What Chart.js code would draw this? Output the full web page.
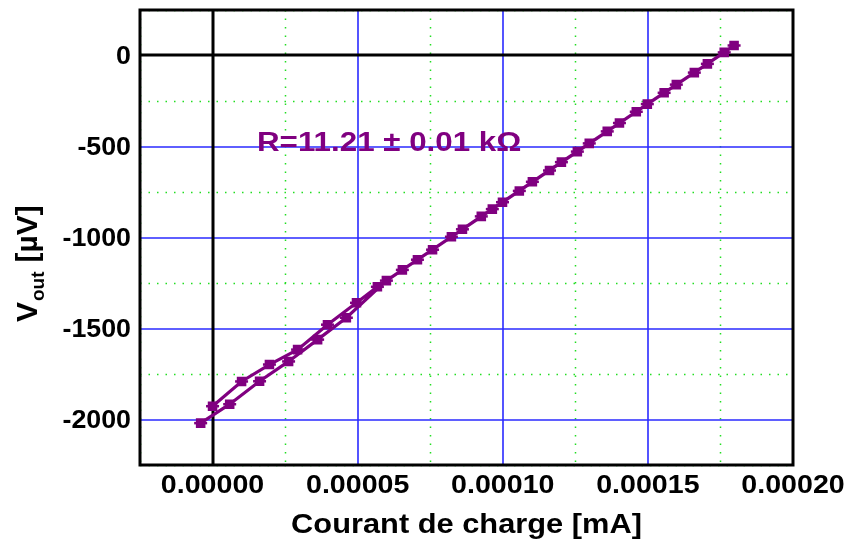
<!DOCTYPE html>
<html>
<head>
<meta charset="utf-8">
<script src="https://cdn.jsdelivr.net/npm/chart.js@4/dist/chart.umd.min.js"></script>
<style>
  html, body { margin: 0; padding: 0; background: #fff; }
  #wrap { width: 846px; height: 551px; }
</style>
</head>
<body>
<div id="wrap"><canvas id="c" width="846" height="551"></canvas></div>
<script>
// montée : courant (mA) et tension (µV)
const courantMontee = [-0.0000041, 0.0000059, 0.0000162, 0.0000262, 0.0000362, 0.0000461,
  0.0000599, 0.0000706, 0.0000823, 0.0000926, 0.0000999, 0.0001102, 0.0001202,
  0.0001298, 0.0001402, 0.0001498, 0.0001598, 0.0001705, 0.0001797];
const tensionMontee = [-2020, -1916, -1790, -1681, -1561, -1441,
  -1237, -1122, -996, -884, -806, -694, -586,
  -483, -371, -267, -160, -46, 55];

// descente
const courantDescente = [0.0001763, 0.000166, 0.0001556, 0.000146, 0.000136, 0.0001257,
  0.0001161, 0.0001057, 0.0000964, 0.0000861, 0.0000758, 0.0000654, 0.0000568,
  0.0000496, 0.0000396, 0.0000293, 0.0000196, 0.00001, 0];
const tensionDescente = [17, -94, -205, -309, -417, -528,
  -632, -744, -844, -955, -1067, -1178, -1271,
  -1359, -1479, -1616, -1698, -1791, -1927];

const xTicks = [0, 0.00005, 0.0001, 0.00015, 0.0002];
const yTicks = [0, -500, -1000, -1500, -2000];

const pts = [];
courantMontee.forEach((x, i) => pts.push({ x: x, y: tensionMontee[i] }));
courantDescente.forEach((x, i) => pts.push({ x: x, y: tensionDescente[i] }));

const violet = '#800080';
const police = '"Liberation Sans", Arial, sans-serif';

// texte légèrement élargi horizontalement
function texteLarge(ctx, txt, x, y, taille, sx, align) {
  ctx.save();
  ctx.font = 'bold ' + taille + 'px ' + police;
  const w = ctx.measureText(txt).width * sx;
  let x0 = x;
  if (align === 'center') x0 = x - w / 2;
  if (align === 'right') x0 = x - w;
  ctx.translate(x0, y);
  ctx.scale(sx, 1);
  ctx.textAlign = 'left';
  ctx.fillText(txt, 0, 0);
  ctx.restore();
}

// grille, cadre, graduations, titres et annotation
const decor = {
  id: 'decor',
  beforeDatasetsDraw(chart) {
    const { ctx, chartArea: a, scales: { x, y } } = chart;
    ctx.save();
    // grille secondaire pointillée
    ctx.strokeStyle = '#22dd22';
    ctx.lineWidth = 1.5;
    ctx.setLineDash([1.5, 7]);
    for (let v = -0.000025; v <= 0.0002 + 1e-12; v += 0.00005) {
      const px = Math.round(x.getPixelForValue(v)) + 0.5;
      ctx.beginPath(); ctx.moveTo(px, a.top); ctx.lineTo(px, a.bottom); ctx.stroke();
    }
    for (let v = 250; v >= -2250; v -= 500) {
      const py = Math.round(y.getPixelForValue(v)) + 0.5;
      ctx.beginPath(); ctx.moveTo(a.left, py); ctx.lineTo(a.right, py); ctx.stroke();
    }
    ctx.setLineDash([]);
    // grille principale
    ctx.strokeStyle = '#2a2aff';
    ctx.lineWidth = 1.6;
    xTicks.forEach(v => {
      if (v === 0) return;
      const px = Math.round(x.getPixelForValue(v));
      ctx.beginPath(); ctx.moveTo(px, a.top); ctx.lineTo(px, a.bottom); ctx.stroke();
    });
    yTicks.forEach(v => {
      if (v === 0) return;
      const py = Math.round(y.getPixelForValue(v));
      ctx.beginPath(); ctx.moveTo(a.left, py); ctx.lineTo(a.right, py); ctx.stroke();
    });
    // axes zéro
    ctx.strokeStyle = '#000';
    ctx.lineWidth = 3;
    const x0 = Math.round(x.getPixelForValue(0));
    const y0 = Math.round(y.getPixelForValue(0));
    ctx.beginPath(); ctx.moveTo(x0, a.top); ctx.lineTo(x0, a.bottom); ctx.stroke();
    ctx.beginPath(); ctx.moveTo(a.left, y0); ctx.lineTo(a.right, y0); ctx.stroke();
    ctx.restore();
  },
  afterDraw(chart) {
    const { ctx, chartArea: a, scales: { x, y } } = chart;
    ctx.save();
    // cadre
    ctx.strokeStyle = '#000';
    ctx.lineWidth = 3;
    ctx.strokeRect(a.left, a.top, a.right - a.left, a.bottom - a.top);

    ctx.fillStyle = '#000';
    ctx.textBaseline = 'middle';
    // graduations
    xTicks.forEach(v => {
      texteLarge(ctx, v.toFixed(5), x.getPixelForValue(v), a.bottom + 21, 26, 1.1, 'center');
    });
    yTicks.forEach(v => {
      texteLarge(ctx, String(v), a.left - 9, y.getPixelForValue(v) + 1, 26, 1.03, 'right');
    });

    // titre axe x
    ctx.textBaseline = 'alphabetic';
    texteLarge(ctx, 'Courant de charge [mA]', (a.left + a.right) / 2, 533, 28, 1.1, 'center');

    // titre axe y avec indice
    ctx.translate(37, 322);
    ctx.rotate(-Math.PI / 2);
    ctx.textAlign = 'left';
    ctx.font = 'bold 30px ' + police;
    ctx.fillText('V', 0, 0);
    let w = ctx.measureText('V').width;
    ctx.font = 'bold 19px ' + police;
    ctx.fillText('out', w + 1, 7);
    w += 1 + ctx.measureText('out').width + 9;
    ctx.font = 'bold 30px ' + police;
    ctx.fillText('[µV]', w, 0);
    ctx.restore();

    // annotation
    ctx.save();
    ctx.fillStyle = violet;
    ctx.textBaseline = 'alphabetic';
    texteLarge(ctx, 'R=11.21 \u00b1 0.01 k\u03a9', 257, 151, 27, 1.16, 'left');
    ctx.restore();
  }
};

new Chart(document.getElementById('c'), {
  type: 'scatter',
  data: {
    datasets: [{
      data: pts,
      showLine: true,
      borderColor: violet,
      backgroundColor: violet,
      borderWidth: 3.2,
      pointStyle: 'rect',
      pointRadius: 4.5,
      pointHoverRadius: 4.5
    }, {
      // barres d'erreur horizontales
      data: pts,
      showLine: false,
      borderColor: violet,
      backgroundColor: violet,
      borderWidth: 2.5,
      pointStyle: 'line',
      pointRadius: 6.5,
      pointHoverRadius: 6.5
    }]
  },
  options: {
    responsive: false,
    animation: false,
    layout: { padding: { top: 10, right: 53, left: 0, bottom: 0 } },
    plugins: { legend: { display: false }, tooltip: { enabled: false } },
    scales: {
      x: {
        type: 'linear',
        min: -0.000025,
        max: 0.0002,
        afterFit: s => { s.height = 86; },
        grid: { display: false },
        border: { display: false },
        ticks: { display: false }
      },
      y: {
        type: 'linear',
        min: -2250,
        max: 250,
        afterFit: s => { s.width = 140; },
        grid: { display: false },
        border: { display: false },
        ticks: { display: false }
      }
    }
  },
  plugins: [decor]
});
</script>
</body>
</html>
